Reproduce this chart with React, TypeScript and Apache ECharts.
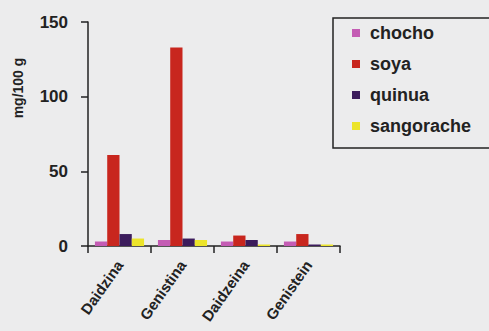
import React, { useEffect, useRef } from "react";
import * as echarts from "echarts";

const categories = ["Daidzina", "Genistina", "Daidzeina", "Genistein"];
const chocho = [3, 4, 3, 3];
const soya = [61, 133, 7, 8];
const quinua = [8, 5, 4, 1];
const sangorache = [5, 4, 1, 1];
const seriesNames = ["chocho", "soya", "quinua", "sangorache"];
const colors = ["#c45cb4", "#c8261e", "#3c1c5c", "#ece42a"];
const yTitle = "mg/100 g";

export default function App() {
  const ref = useRef<HTMLDivElement>(null);
  useEffect(() => {
    const chart = echarts.init(ref.current!, null, { renderer: "svg" });
    const data = [chocho, soya, quinua, sangorache];
    chart.setOption({
      animation: false,
      backgroundColor: "#ececed",
      textStyle: { fontFamily: "Liberation Sans, Arial, sans-serif" },
      grid: { left: 88, right: 149, top: 22, bottom: 85 },
      legend: {
        orient: "vertical",
        left: 333,
        top: 18,
        padding: [5, 40, 12, 19],
        itemGap: 11,
        itemWidth: 8,
        itemHeight: 8,
        icon: "rect",
        borderColor: "#222",
        borderWidth: 1.5,
        textStyle: { fontSize: 18, fontWeight: "bold", color: "#222", lineHeight: 20, padding: [0, 0, 0, 5] },
        data: seriesNames,
      },
      graphic: [
        {
          type: "text",
          x: 18,
          y: 88,
          rotation: Math.PI / 2,
          style: {
            text: yTitle,
            fontSize: 14,
            fontWeight: "bold",
            fill: "#222",
            fontFamily: "Liberation Sans, Arial, sans-serif",
            align: "center",
            verticalAlign: "middle",
          },
        },
      ],
      xAxis: {
        type: "category",
        data: categories,
        axisLine: { lineStyle: { color: "#222", width: 1.5 } },
        axisTick: { show: true, length: 7, lineStyle: { color: "#222", width: 1.5 } },
        axisLabel: { rotate: 55, fontSize: 15, fontWeight: "bold", color: "#222", margin: 16 },
      },
      yAxis: {
        type: "value",
        min: 0,
        max: 150,
        interval: 50,
        axisLine: { show: true, lineStyle: { color: "#222", width: 1.5 } },
        axisTick: { show: true, length: 7, lineStyle: { color: "#222", width: 1.5 } },
        splitLine: { show: false },
        axisLabel: { fontSize: 17, fontWeight: "bold", color: "#222", margin: 20 },
      },
      series: seriesNames.map((n, i) => ({
        name: n,
        type: "bar",
        data: data[i],
        barGap: "0%",
        barCategoryGap: "22%",
        itemStyle: { color: colors[i] },
      })),
    });
    return () => chart.dispose();
  }, []);
  return <div ref={ref} style={{ width: 489, height: 331, position: "absolute", left: 0, top: 0 }} />;
}
